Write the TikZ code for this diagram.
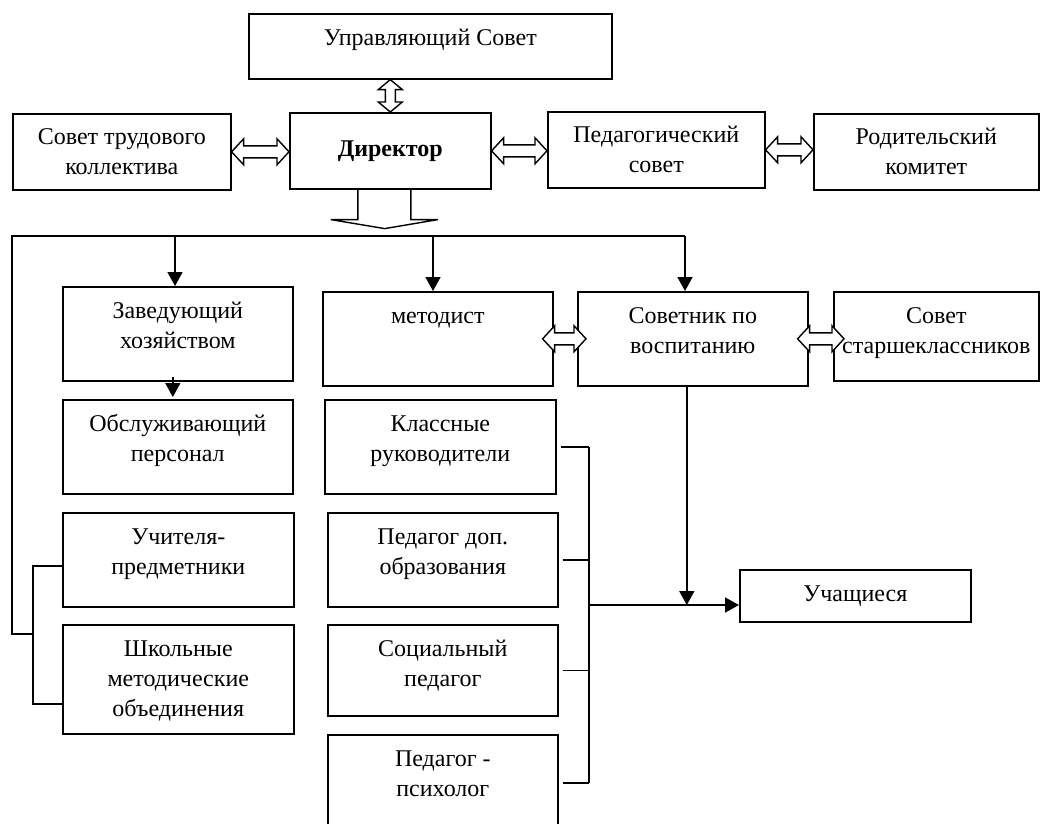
\documentclass[tikz,border=0pt]{standalone}
\usepackage{fontspec}
\setmainfont{Liberation Serif}
\usetikzlibrary{arrows.meta,calc}
\tikzset{
  box/.style={draw, line width=1.6pt, inner sep=0pt, rectangle, align=center,
              font=\fontsize{24}{30}\selectfont},
  txt/.style={font=\fontsize{24}{30}\selectfont, align=center, inner sep=0pt, anchor=north},
  con/.style={line width=1.6pt},
  arr/.style={con, -{Triangle[length=14pt,width=15pt]}},
  darr/.style={line width=1.4pt, fill=white, line join=miter},
}
% box by corners: name, x1, y1, x2, y2, text
\newcommand\bx[6]{\node[box, anchor=north west, minimum width=#4pt-#2pt,
  minimum height=#5pt-#3pt] (#1) at (#2,#3) {#6};}
% text near top of a box
\newcommand\tx[2]{\node[txt] (#1-t) at ([yshift=-11pt]#1.north) {\strut #2};}
% horizontal hollow double arrow between two points (y of the first)
\newcommand\hdarr[2]{\draw[darr] let \p1=(#1), \p2=(#2) in
  (\x1,\y1) -- (\x1+12pt,\y1+13pt) -- (\x1+12pt,\y1+6pt) -- (\x2-12pt,\y1+6pt)
  -- (\x2-12pt,\y1+13pt) -- (\x2,\y1) -- (\x2-12pt,\y1-13pt) -- (\x2-12pt,\y1-6pt)
  -- (\x1+12pt,\y1-6pt) -- (\x1+12pt,\y1-13pt) -- cycle;}
% vertical hollow double arrow: #1 lower point, #2 upper point (x of the first)
\newcommand\vdarr[2]{\draw[darr] let \p1=(#1), \p2=(#2) in
  (\x1,\y1) -- (\x1-12pt,\y1+10pt) -- (\x1-5pt,\y1+10pt) -- (\x1-5pt,\y2-10pt)
  -- (\x1-12pt,\y2-10pt) -- (\x1,\y2) -- (\x1+12pt,\y2-10pt) -- (\x1+5pt,\y2-10pt)
  -- (\x1+5pt,\y1+10pt) -- (\x1+12pt,\y1+10pt) -- cycle;}

\begin{document}
\begin{tikzpicture}[x=1pt,y=-1pt]
\useasboundingbox (0,0) rectangle (1040,823);
\clip (0,0) rectangle (1040,823);

% ---- top rows
\bx{upr}{248}{13}{611}{78}{}
\tx{upr}{Управляющий Совет}
\bx{sovtr}{12}{113}{230}{189}{Совет трудового\\коллектива}
\bx{dir}{289}{112}{490}{188}{\bfseries Директор}
\bx{ped}{547}{111}{764}{187}{Педагогический\\совет}
\bx{rod}{813}{113}{1038}{189}{Родительский\\комитет}

% ---- left column
\bx{zav}{62}{286}{292}{380}{}
\tx{zav}{Заведующий\\хозяйством}
\bx{obs}{62}{399}{292}{493}{}
\tx{obs}{Обслуживающий\\персонал}
\bx{uchp}{62}{512}{293}{606}{}
\tx{uchp}{Учителя-\\предметники}
\bx{shk}{62}{624}{293}{733}{}
\tx{shk}{Школьные\\методические\\объединения}

% ---- middle column
\bx{met}{322}{291}{552}{385}{}
\tx{met}{методист}
\bx{kl}{324}{399}{555}{493}{}
\tx{kl}{Классные\\руководители}
\bx{pdo}{327}{512}{557}{606}{}
\tx{pdo}{Педагог доп.\\образования}
\bx{soc}{327}{624}{557}{715}{}
\tx{soc}{Социальный\\педагог}
\bx{psy}{327}{734}{557}{830}{}
\tx{psy}{Педагог -\\психолог}

% ---- right column
\bx{sov}{577}{291}{807}{385}{}
\tx{sov}{Советник по\\воспитанию}
\bx{sst}{833}{291}{1038}{380}{}
\tx{sst}{Совет\\старшеклассников}
\bx{uchs}{739}{569}{970}{621}{Учащиеся}

% ---- hollow double arrows
\vdarr{dir.north}{dir.north |- upr.south}
\hdarr{sovtr.east}{dir.west}
\hdarr{dir.east}{ped.west}
\hdarr{ped.east}{rod.west}
\hdarr{[xshift=-11pt]met.east}{[xshift=9pt]sov.west}
\hdarr{[xshift=-11pt]sov.east}{[xshift=11pt]sst.west}

% ---- big downward arrow under the director
\draw[darr, fill=none] let \p1=(dir.south) in
  (\x1-32.5pt,\y1) -- (\x1-32.5pt,\y1-30pt) -- (\x1-59.5pt,\y1-30pt)
  -- (\x1-5.5pt,\y1-39pt) -- (\x1+47.5pt,\y1-30pt) -- (\x1+20.5pt,\y1-30pt)
  -- (\x1+20.5pt,\y1);

% ---- distribution line
\coordinate (hl) at (12,236);
\coordinate (hr) at (685,236);
\coordinate (a1) at (175,236);
\coordinate (a2) at (433,236);
\coordinate (lv) at (12,634);
\coordinate (lj) at (33,634);
\coordinate (lb1) at (33,566);
\coordinate (lb2) at (33,704);
\draw[con] (hr) -- (hl) -- (lv) -- (lj);
\draw[con] (lb1 -| uchp.west) -- (lb1) -- (lb2) -- (lb2 -| shk.west);
\draw[arr] (a1) -- (a1 |- zav.north);
\draw[arr] (a2) -- (a2 |- met.north);
\draw[arr] (hr) -- (hr |- sov.north);
\draw[arr] ([xshift=-5pt,yshift=5pt]zav.south) -- ([xshift=-5pt,yshift=2pt]obs.north);

% ---- right bracket to pupils
\coordinate (rb) at (589,605);
\draw[con] ([xshift=4pt]kl.east) -- (kl.east -| rb);
\draw[con] ([xshift=4pt]pdo.east) -- (pdo.east -| rb);
\draw[con] ([xshift=4pt]soc.east) -- (soc.east -| rb);
\draw[con] ([xshift=4pt]psy.east) -- (psy.east -| rb);
\draw[con] (kl.east -| rb) -- (psy.east -| rb);
\draw[arr] (rb) -- (rb -| uchs.west);
\draw[arr] ([xshift=-6pt]sov.south) -- ([xshift=-6pt]sov.south |- rb);
\end{tikzpicture}
\end{document}
